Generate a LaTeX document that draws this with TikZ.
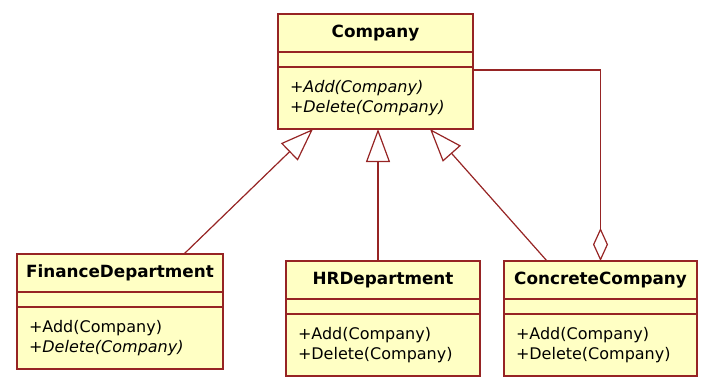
\documentclass[tikz,border=0pt]{standalone}
\usepackage{fontspec}
\setmainfont{DejaVu Sans}
\usepackage{tikz}
\usetikzlibrary{positioning, arrows.meta}

\definecolor{umlline}{RGB}{150,36,36}
\definecolor{umlfill}{RGB}{255,255,196}

\begin{document}
\begin{tikzpicture}[
    x=1pt, y=-1pt,
    node distance=0pt,
    cls/.style={
        rectangle,
        draw=umlline, line width=1.4pt,
        fill=umlfill,
        inner sep=0pt, outer sep=0pt,
        minimum width=#1,
        minimum height=38pt,
        font=\fontsize{16.8}{20}\selectfont\bfseries
    },
    attr/.style={
        rectangle,
        draw=umlline, line width=1.4pt,
        fill=umlfill,
        inner sep=0pt, outer sep=0pt,
        minimum width=#1,
        minimum height=15pt
    },
    ops/.style={
        rectangle,
        draw=umlline, line width=1.4pt,
        fill=umlfill,
        inner xsep=12pt, inner ysep=0pt, outer sep=0pt,
        text width=#1,
        minimum height=62pt,
        align=left,
        font=\fontsize{16}{20}\selectfont
    },
    inherit/.style={
        draw=umlline, line width=1.2pt,
        -{Triangle[open, length=33pt, width=24pt, line width=1.2pt]}
    },
    aggr/.style={
        draw=umlline, line width=1.2pt,
        {Diamond[open, length=33pt, width=15pt, line width=1.2pt]}-
    }
]
\useasboundingbox (0,0) rectangle (703,380);

% Company
\node[cls=195pt, anchor=north west] (coT) at (278,14) {Company};
\node[attr=195pt, below=of coT] (coA) {};
\node[ops=171pt, below=of coA] (coM)
{\itshape +Add(Company)\\ \itshape +Delete(Company)};

% FinanceDepartment
\node[cls=206pt, anchor=north west] (fiT) at (17,254) {FinanceDepartment};
\node[attr=206pt, below=of fiT] (fiA) {};
\node[ops=182pt, below=of fiA] (fiM)
{+Add(Company)\\ \itshape +Delete(Company)};

% HRDepartment
\node[cls=194pt, anchor=north west] (hrT) at (286,261) {HRDepartment};
\node[attr=194pt, below=of hrT] (hrA) {};
\node[ops=170pt, below=of hrA] (hrM)
{+Add(Company)\\ +Delete(Company)};

% ConcreteCompany
\node[cls=193pt, anchor=north west] (ccT) at (504,261) {ConcreteCompany};
\node[attr=193pt, below=of ccT] (ccA) {};
\node[ops=169pt, below=of ccA] (ccM)
{+Add(Company)\\ +Delete(Company)};

% Generalisation
\draw[inherit] ([xshift=-39pt]fiT.north east) -- ([xshift=35pt]coM.south west);
\draw[inherit] ([xshift=-5pt]hrT.north) -- ([xshift=-5pt]hrT.north |- coM.south);
\draw[inherit] ([xshift=43pt]ccT.north west) -- ([xshift=-43pt]coM.south east);

% Aggregation
\draw[aggr] (ccT.north) |- ([yshift=-3pt]coM.north east);

\end{tikzpicture}
\end{document}
